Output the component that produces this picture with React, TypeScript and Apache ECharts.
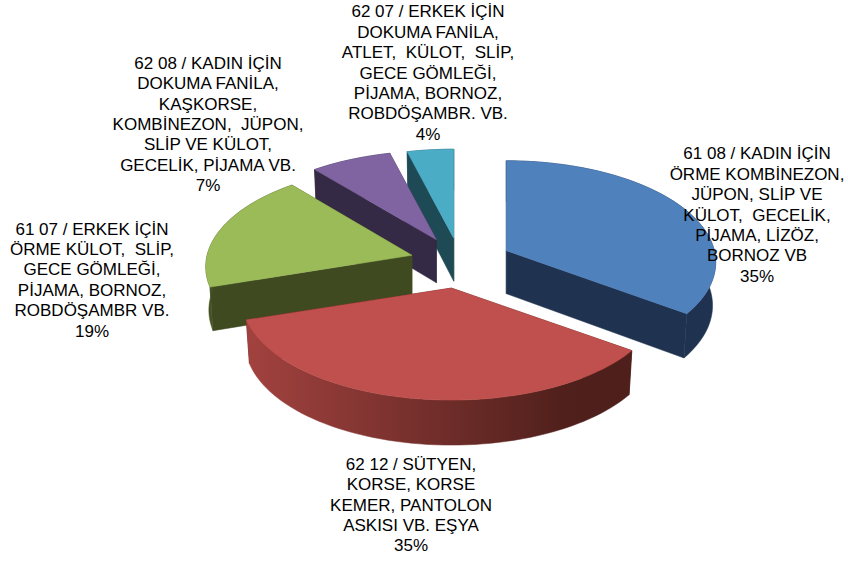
import React, { useEffect, useRef } from "react";
import * as echarts from "echarts";

const categories = [
  "61 08 / KADIN İÇİN\nÖRME KOMBİNEZON,\nJÜPON, SLİP VE\nKÜLOT,  GECELİK,\nPİJAMA, LİZÖZ,\nBORNOZ VB",
  "62 12 / SÜTYEN,\nKORSE, KORSE\nKEMER, PANTOLON\nASKISI VB. EŞYA",
  "61 07 / ERKEK İÇİN\nÖRME KÜLOT,  SLİP,\nGECE GÖMLEĞİ,\nPİJAMA, BORNOZ,\nROBDÖŞAMBR VB.",
  "62 08 / KADIN İÇİN\nDOKUMA FANİLA,\nKAŞKORSE,\nKOMBİNEZON,  JÜPON,\nSLİP VE KÜLOT,\nGECELİK, PİJAMA VB.",
  "62 07 / ERKEK İÇİN\nDOKUMA FANİLA,\nATLET,  KÜLOT,  SLİP,\nGECE GÖMLEĞİ,\nPİJAMA, BORNOZ,\nROBDÖŞAMBR. VB.",
];
const values = [35, 35, 19, 7, 4];
const topColors = ["#4F81BD", "#C0504D", "#9BBB59", "#8064A2", "#4BACC6"];
const cutColors = ["#1F3350", "#4E1F1B", "#3F4A20", "#352A45", "#1D4A55"];
const wallLight = ["#1F3350", "#A2423F", "#465224", "#352A45", "#1D4A55"];
const paintRank = [3, 5, 4, 2, 1];
const labelCentres = [
  [757, 215],
  [411, 505],
  [92, 280],
  [208, 124.5],
  [428, 73],
];
const explodeBySlice = [52, 55, 50, 52, 50];
const radiusXScale = [1, 1, 0.985, 1, 1];
const radiusYScale = [1.01, 1, 1, 1, 1];

// Projection of the tilted pie
const CX = 460, CY = 262, RX = 208, KY = 99.2, PERSP = 0.1145, TILT = 0.48, DEPTH = 43;
const FONT = "17px 'Liberation Sans', Arial, sans-serif";
const LINE = 20.4;

const total = values.reduce((a, b) => a + b, 0);
const rad = (d: number) => (d * Math.PI) / 180;

function rim(deg: number, i: number) {
  const s = Math.sin(rad(deg));
  const c = Math.cos(rad(deg));
  const f = 1 / (1 + PERSP * c);
  return { x: RX * radiusXScale[i] * s * f, y: -KY * radiusYScale[i] * c * f, d: DEPTH - 2 * c };
}

function renderItem(params: any, api: any) {
  const i = params.dataIndex;
  const before = values.slice(0, i).reduce((a, b) => a + b, 0);
  const a0 = (before / total) * 360;
  const a1 = ((before + api.value(0)) / total) * 360;
  const mid = (a0 + a1) / 2;
  const ax = CX + explodeBySlice[i] * Math.sin(rad(mid));
  const ay = CY - explodeBySlice[i] * Math.cos(rad(mid)) * TILT;

  const topPt = (deg: number) => {
    const r = rim(deg, i);
    return [ax + r.x, ay + r.y];
  };
  const botPt = (deg: number) => {
    const r = rim(deg, i);
    return [ax + r.x * 0.985, ay + r.y + r.d];
  };
  const angles: number[] = [];
  for (let d = a0; d < a1; d += 2) angles.push(d);
  angles.push(a1);

  const z2 = paintRank[i];
  const apexBot = [ax, ay + DEPTH];
  const face = (points: number[][], fill: any) => ({
    type: "polygon",
    silent: true,
    z2,
    shape: { points },
    style: { fill, stroke: fill, lineWidth: 0.5 },
  });
  const wallFill = new echarts.graphic.LinearGradient(0, 0, 1, 0, [
    { offset: 0, color: wallLight[i] },
    { offset: 0.85, color: cutColors[i] },
    { offset: 1, color: cutColors[i] },
  ]);
  return {
    type: "group",
    children: [
      face([[ax, ay], topPt(a0), botPt(a0), apexBot], cutColors[i]),
      face([[ax, ay], topPt(a1), botPt(a1), apexBot], cutColors[i]),
      face([...angles.map(topPt), ...angles.slice().reverse().map(botPt)], wallFill),
      face([[ax, ay], ...angles.map(topPt)], topColors[i]),
      {
        type: "text",
        silent: true,
        z2: 20,
        style: {
          text: `${categories[i]}\n${api.value(0)}%`,
          x: labelCentres[i][0],
          y: labelCentres[i][1],
          align: "center",
          verticalAlign: "middle",
          font: FONT,
          lineHeight: LINE,
          fill: "#000000",
        },
      },
    ],
  };
}

export default function App() {
  const ref = useRef<HTMLDivElement>(null);
  useEffect(() => {
    document.body.style.margin = "0";
    const chart = echarts.init(ref.current!, null, { renderer: "svg" });
    chart.setOption({
      animation: false,
      backgroundColor: "#FFFFFF",
      series: [
        {
          type: "custom",
          coordinateSystem: "none",
          renderItem,
          clip: false,
          data: values.map((v) => [v]),
        },
      ],
    });
    return () => chart.dispose();
  }, []);
  return <div ref={ref} style={{ width: 848, height: 561 }} />;
}
